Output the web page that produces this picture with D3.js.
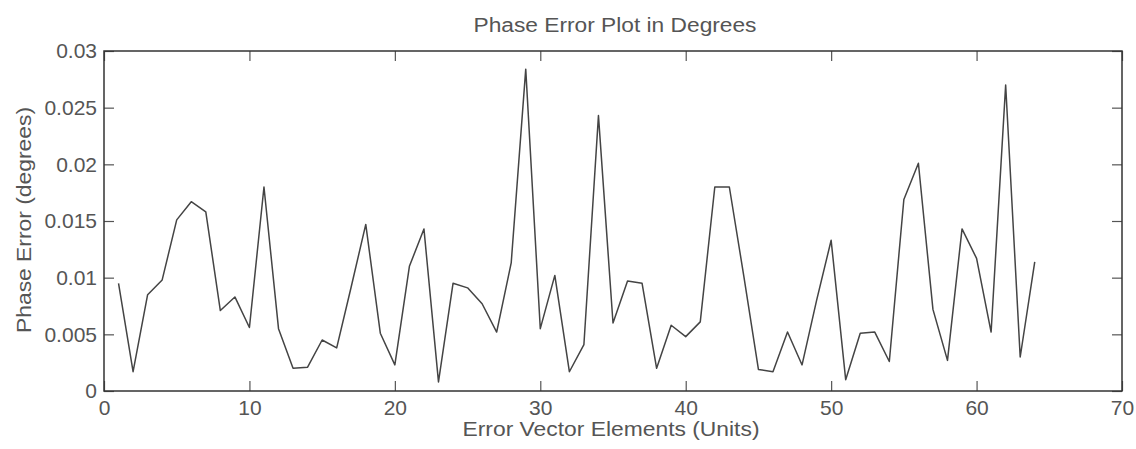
<!DOCTYPE html>
<html>
<head>
<meta charset="utf-8">
<script src="https://cdn.jsdelivr.net/npm/d3@7"></script>
<style>
  body { margin: 0; background: #fff; }
  text { font-family: "Liberation Sans", Arial, sans-serif; fill: #555; }
</style>
</head>
<body>
<div id="chart"></div>
<script>
// data
var elements = d3.range(1, 65);
var phaseError = [
  0.0095, 0.0017, 0.0085, 0.0098, 0.0151, 0.0167, 0.0158, 0.0071, 0.0083, 0.0056,
  0.0180, 0.0055, 0.0020, 0.0021, 0.0045, 0.0038, 0.0092, 0.0147, 0.0051, 0.0023,
  0.0110, 0.0143, 0.0008, 0.0095, 0.0091, 0.0077, 0.0052, 0.0113, 0.0284, 0.0055,
  0.0102, 0.0017, 0.0041, 0.0243, 0.0060, 0.0097, 0.0095, 0.0020, 0.0058, 0.0048,
  0.0061, 0.0180, 0.0180, 0.0101, 0.0019, 0.0017, 0.0052, 0.0023, 0.0080, 0.0133,
  0.0010, 0.0051, 0.0052, 0.0026, 0.0169, 0.0201, 0.0072, 0.0027, 0.0143, 0.0117,
  0.0052, 0.0270, 0.0030, 0.0114
];
var xTicks = [0, 10, 20, 30, 40, 50, 60, 70];
var yTicks = [0, 0.005, 0.01, 0.015, 0.02, 0.025, 0.03];
var yTickLabels = ["0", "0.005", "0.01", "0.015", "0.02", "0.025", "0.03"];

var WIDTH = 1136, HEIGHT = 449;
var margin = {top: 51, right: 14, bottom: 58, left: 104};
var w = WIDTH - margin.left - margin.right,
    h = HEIGHT - margin.top - margin.bottom;

var svg = d3.select("#chart").append("svg")
    .attr("width", WIDTH)
    .attr("height", HEIGHT);

var g = svg.append("g")
    .attr("transform", "translate(" + margin.left + "," + margin.top + ")");

var x = d3.scaleLinear().domain([0, 70]).range([0, w]);
var y = d3.scaleLinear().domain([0, 0.03]).range([h, 0]);

var tickLen = 10;

// bottom + top axes (inward ticks, MATLAB style)
var xb = g.append("g").attr("transform", "translate(0," + h + ")")
    .call(d3.axisBottom(x).tickValues(xTicks).tickSizeInner(-tickLen).tickSizeOuter(0).tickPadding(9));
var xt = g.append("g")
    .call(d3.axisTop(x).tickValues(xTicks).tickSizeInner(-tickLen).tickSizeOuter(0).tickFormat(""));
var yl = g.append("g")
    .call(d3.axisLeft(y).tickValues(yTicks).tickSizeInner(-tickLen).tickSizeOuter(0).tickPadding(7)
      .tickFormat(function(d, i){ return yTickLabels[i]; }));
var yr = g.append("g").attr("transform", "translate(" + w + ",0)")
    .call(d3.axisRight(y).tickValues(yTicks).tickSizeInner(-tickLen).tickSizeOuter(0).tickFormat(""));

[xb, xt, yl, yr].forEach(function(a){
  a.select(".domain").remove();
  a.selectAll(".tick line").attr("stroke", "#555").attr("stroke-width", 1.2);
  a.selectAll(".tick text").attr("fill", "#555").style("font-size", "21px")
    .style("font-family", "'Liberation Sans', Arial, sans-serif");
});

// box
g.append("rect")
    .attr("width", w).attr("height", h)
    .attr("fill", "none")
    .attr("stroke", "#333")
    .attr("stroke-width", 1.5);

// data line
var line = d3.line()
    .x(function(d, i){ return x(elements[i]); })
    .y(function(d){ return y(d); });

g.append("path")
    .datum(phaseError)
    .attr("d", line)
    .attr("fill", "none")
    .attr("stroke", "#444")
    .attr("stroke-width", 1.5)
    .attr("stroke-linejoin", "round");

// labels
svg.append("text")
    .attr("x", 615).attr("y", 32)
    .attr("text-anchor", "middle")
    .attr("textLength", 283)
    .attr("lengthAdjust", "spacingAndGlyphs")
    .style("font-size", "20px")
    .text("Phase Error Plot in Degrees");

svg.append("text")
    .attr("x", 611).attr("y", 436)
    .attr("text-anchor", "middle")
    .attr("textLength", 297)
    .attr("lengthAdjust", "spacingAndGlyphs")
    .style("font-size", "21px")
    .text("Error Vector Elements (Units)");

svg.append("text")
    .attr("transform", "translate(31,220) rotate(-90)")
    .attr("text-anchor", "middle")
    .attr("textLength", 226)
    .attr("lengthAdjust", "spacingAndGlyphs")
    .style("font-size", "21px")
    .text("Phase Error (degrees)");
</script>
</body>
</html>
